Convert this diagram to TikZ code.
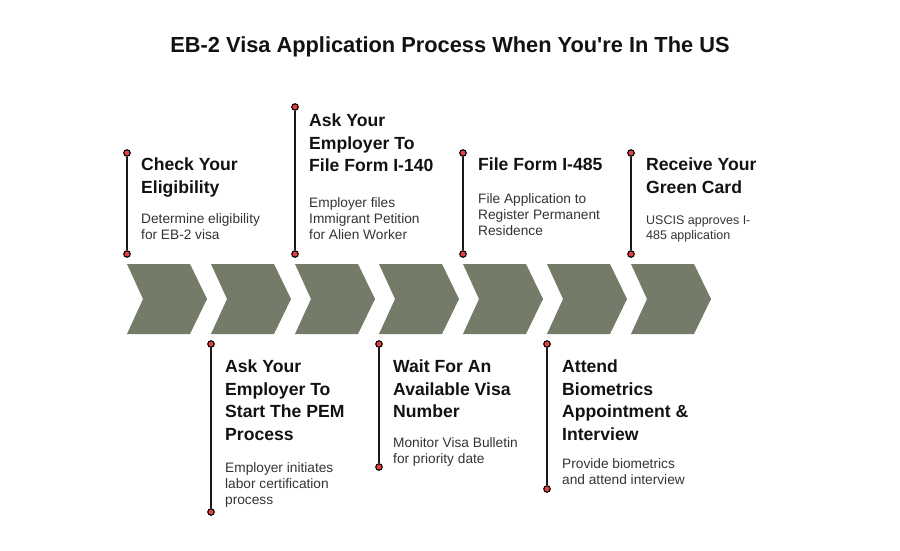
\documentclass[tikz,border=0pt]{standalone}
\usepackage{fontspec}
\setmainfont{Liberation Sans}
\definecolor{chevgreen}{RGB}{116,123,105}
\definecolor{pinred}{RGB}{232,64,64}
\tikzset{
  chev/.style={fill=chevgreen},
  pin/.style={circle,draw=black,fill=pinred,line width=1.1pt,inner sep=0pt,minimum size=6.5pt},
  stem/.style={line width=2.2pt,draw=black!90},
  head/.style={anchor=north west,inner sep=0pt,align=left,text=black!93,font=\fontsize{17.6}{22.5}\selectfont\bfseries},
  desc/.style={anchor=north west,inner sep=0pt,align=left,text=black!80,font=\fontsize{13.7}{16.2}\selectfont},
}
\begin{document}
\begin{tikzpicture}[x=1pt,y=-1pt]
\useasboundingbox (0,0) rectangle (900,550);
\node[font=\fontsize{21.8}{26}\selectfont\bfseries,text=black!93] (title) at (450,47) {EB-2 Visa Application Process When You\textquotesingle re In The US};

% chevrons
\foreach \x in {127,211,295,379,463,547,631}
  \path[chev] (\x,264) -- (\x+63,264) -- (\x+80,299) -- (\x+63,334) -- (\x,334) -- (\x+16,299) -- cycle;

% step 1
\begin{scope}[shift={(127,0)}]
\node[pin] (a1) at (0,153) {};
\node[pin] (b1) at (0,254) {};
\path[stem] (a1) -- (b1);
\node[head] (h1) at (14,158) {Check Your\\Eligibility};
\node[desc] (d1) at (14,213) {Determine eligibility\\for EB-2 visa};
\end{scope}
% step 2
\begin{scope}[shift={(211,0)}]
\node[pin] (a2) at (0,344) {};
\node[pin] (b2) at (0,512) {};
\path[stem] (a2) -- (b2);
\node[head] (h2) at (14,360) {Ask Your\\Employer To\\Start The PEM\\Process};
\node[desc] (d2) at (14,462) {Employer initiates\\labor certification\\process};
\end{scope}
% step 3
\begin{scope}[shift={(295,0)}]
\node[pin] (a3) at (0,107) {};
\node[pin] (b3) at (0,254) {};
\path[stem] (a3) -- (b3);
\node[head] (h3) at (14,114) {Ask Your\\Employer To\\File Form I-140};
\node[desc] (d3) at (14,197) {Employer files\\Immigrant Petition\\for Alien Worker};
\end{scope}
% step 4
\begin{scope}[shift={(379,0)}]
\node[pin] (a4) at (0,344) {};
\node[pin] (b4) at (0,467) {};
\path[stem] (a4) -- (b4);
\node[head] (h4) at (14,360) {Wait For An\\Available Visa\\Number};
\node[desc] (d4) at (14,437) {Monitor Visa Bulletin\\for priority date};
\end{scope}
% step 5
\begin{scope}[shift={(463,0)}]
\node[pin] (a5) at (0,153) {};
\node[pin] (b5) at (0,254) {};
\path[stem] (a5) -- (b5);
\node[head] (h5) at (15,158) {File Form I-485};
\node[desc] (d5) at (15,193) {File Application to\\Register Permanent\\Residence};
\end{scope}
% step 6
\begin{scope}[shift={(547,0)}]
\node[pin] (a6) at (0,344) {};
\node[pin] (b6) at (0,489) {};
\path[stem] (a6) -- (b6);
\node[head] (h6) at (15,360) {Attend\\Biometrics\\Appointment \&\\Interview};
\node[desc] (d6) at (15,458) {Provide biometrics\\and attend interview};
\end{scope}
% step 7
\begin{scope}[shift={(631,0)}]
\node[pin] (a7) at (0,153) {};
\node[pin] (b7) at (0,254) {};
\path[stem] (a7) -- (b7);
\node[head] (h7) at (15,158) {Receive Your\\Green Card};
\node[desc,font=\fontsize{12.5}{14.5}\selectfont] (d7) at (15,216) {USCIS approves I-\\485 application};
\end{scope}
\end{tikzpicture}
\end{document}
